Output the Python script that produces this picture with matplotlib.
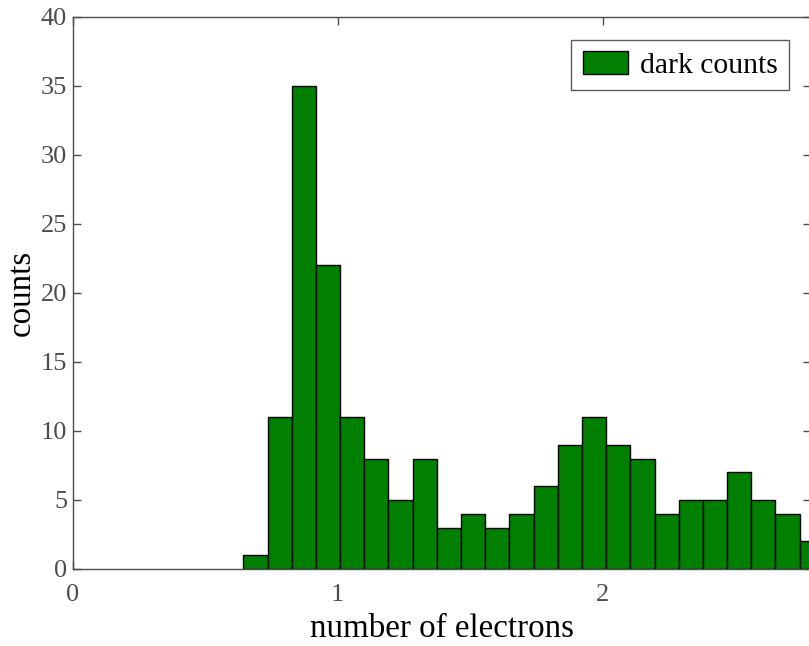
import matplotlib
matplotlib.use("Agg")
import matplotlib.pyplot as plt
import numpy as np

# Histogram of dark counts vs. number of electrons
bin_start = 0.644
bin_width = 0.0913
counts = [1, 11, 35, 22, 11, 8, 5, 8, 3, 4, 3, 4, 6, 9, 11,
          9, 8, 4, 5, 5, 7, 5, 4, 2]
x_ticks = [0, 1, 2]
y_ticks = [0, 5, 10, 15, 20, 25, 30, 35, 40]

plt.rcParams["font.family"] = ["Liberation Serif", "DejaVu Serif"]

fig = plt.figure(figsize=(8.09, 6.46), dpi=100)
ax = fig.add_axes([0.0899, 0.1192, 0.912, 0.8545])

left_edges = bin_start + bin_width * np.arange(len(counts))
ax.bar(left_edges, counts, width=bin_width, align="edge",
       color="#007f00", edgecolor="black", linewidth=1.0,
       label="dark counts", zorder=2)

ax.set_xlim(0, 2.785)
ax.set_ylim(0, 40)
ax.set_xticks(x_ticks)
ax.set_yticks(y_ticks)

tick_gray = "#4d4d4d"
ax.tick_params(direction="in", length=6, width=1.0, top=True, right=True,
               labelsize=19, colors=tick_gray, labelcolor=tick_gray)
ax.tick_params(axis="x", pad=11)
ax.tick_params(axis="y", pad=4)
for s in ax.spines.values():
    s.set_color(tick_gray)
    s.set_linewidth(1.0)

ax.set_xlabel("number of electrons", fontsize=23.8, color="black", labelpad=5)
ax.set_ylabel("counts", fontsize=23.8, color="black", labelpad=3)

leg = ax.legend(loc="upper right", bbox_to_anchor=(0.971, 0.958),
                fontsize=21.3, frameon=True, fancybox=False,
                edgecolor="#333333", borderpad=0.38, handlelength=1.52,
                handleheight=0.78, handletextpad=0.42, borderaxespad=0.0)
leg.get_frame().set_linewidth(1.0)

fig.savefig("out.png", dpi=100)
